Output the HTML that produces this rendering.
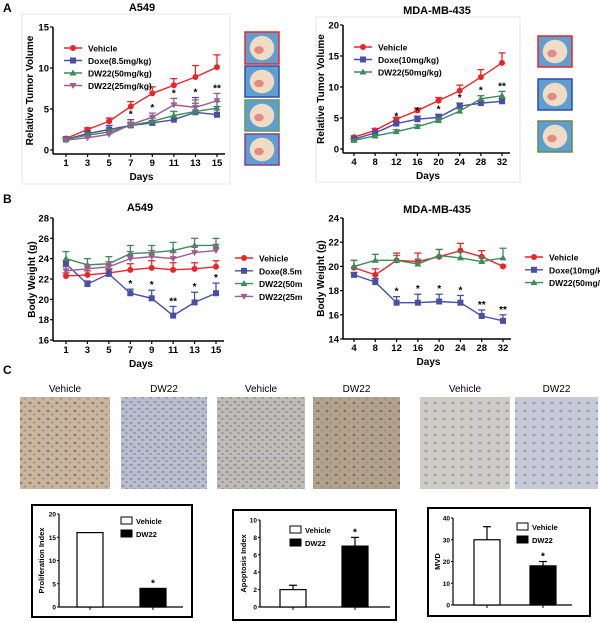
<!DOCTYPE html>
<html><head><meta charset="utf-8">
<style>
html,body{margin:0;padding:0;background:#fff;}
svg{display:block;font-family:"Liberation Sans",Arial,sans-serif;}
</style></head>
<body>
<svg id="fig" width="600" height="623" viewBox="0 0 600 623" xmlns="http://www.w3.org/2000/svg">
<defs>
  <pattern id="nucA" width="9" height="8" patternUnits="userSpaceOnUse"><ellipse cx="3" cy="3" rx="1.6" ry="1.2" fill="#6a4a30"/><ellipse cx="7" cy="6.5" rx="1.4" ry="1.1" fill="#6f7fb0"/></pattern>
  <pattern id="nucB" width="8" height="7" patternUnits="userSpaceOnUse"><ellipse cx="3" cy="3" rx="1.6" ry="1.2" fill="#6576b0"/><ellipse cx="6.5" cy="6" rx="1.2" ry="1" fill="#7a6050"/></pattern>
  <pattern id="nucC" width="9" height="8" patternUnits="userSpaceOnUse"><ellipse cx="3" cy="3" rx="1.7" ry="1.3" fill="#6f82c0"/></pattern>
</defs>
<g id="root"></g>
</svg>
<script>
// ---------- Data ----------
const daysA = [1,3,5,7,9,11,13,15];
const daysM = [4,8,12,16,20,24,28,32];
// Panel A left (A549 tumor volume)
const aLVehicle = [1.4,2.5,3.5,5.3,6.9,7.9,8.9,10.1];
const aLVehicleErr = [0.2,0.2,0.4,0.6,0.8,0.8,1.4,1.5];
const aLDoxe = [1.3,2.0,2.5,3.0,3.3,3.7,4.6,4.3];
const aLDoxeErr = [0.2,0.3,0.5,0.7,0.3,1.0,1.8,1.0];
const aLDw50 = [1.3,1.8,2.2,3.0,3.5,4.2,4.7,5.1];
const aLDw50Err = [0.1,0.2,0.3,0.2,0.4,0.5,1.0,0.8];
const aLDw25 = [1.2,1.5,1.9,3.1,4.0,5.5,5.2,6.0];
const aLDw25Err = [0.1,0.2,0.3,0.3,0.5,0.8,0.9,0.9];
const aLStars = ["","","","*","*","*","*","**"];
// Panel A right (MDA-MB-435 tumor volume)
const aRVehicle = [1.9,3.0,4.8,6.2,7.8,9.4,11.6,13.9];
const aRVehicleErr = [0.2,0.3,0.3,0.4,0.5,0.9,1.2,1.6];
const aRDoxe = [1.6,2.6,4.1,4.8,5.1,6.9,7.4,7.7];
const aRDoxeErr = [0.1,0.2,0.3,0.5,0.5,0.5,0.3,0.4];
const aRDw50 = [1.4,2.1,2.8,3.6,4.6,6.1,8.1,8.6];
const aRDw50Err = [0.1,0.2,0.3,0.3,0.4,0.4,0.5,0.7];
const aRStars = ["","","*","*","*","*","*","**"];
// Panel B left (A549 body weight)
const bLVehicle = [22.3,22.4,22.6,22.9,23.1,22.9,23.0,23.2];
const bLVehicleErr = [0.3,0.4,0.4,0.6,0.7,0.7,0.6,0.6];
const bLDoxe = [23.5,21.5,22.5,20.6,20.1,18.4,19.7,20.6];
const bLDoxeErr = [0.3,0.3,0.4,0.4,0.8,0.9,1.0,1.0];
const bLDw50 = [24.0,23.4,23.5,24.5,24.6,24.8,25.3,25.3];
const bLDw50Err = [0.7,0.6,0.7,0.8,0.7,0.8,0.7,0.7];
const bLDw25 = [22.8,23.0,23.2,24.0,24.2,24.0,24.6,24.8];
const bLDw25Err = [0.4,0.4,0.5,0.7,0.6,0.6,0.6,0.6];
const bLStars = ["","","","*","*","**","*","*"];
// Panel B right (MDA-MB-435 body weight)
const bRVehicle = [19.9,19.3,20.5,20.4,20.8,21.3,20.8,20.0];
const bRVehicleErr = [0.6,0.5,0.6,0.7,0.6,0.6,0.5,0.1];
const bRDoxe = [19.3,18.7,17.0,17.0,17.1,17.0,15.9,15.5];
const bRDoxeErr = [0.2,0.3,0.5,0.7,0.6,0.6,0.5,0.5];
const bRDw50 = [20.0,20.5,20.5,20.2,20.9,20.7,20.4,20.7];
const bRDw50Err = [0.5,0.5,0.4,0.4,0.5,0.5,0.4,0.8];
const bRStars = ["","","*","*","*","*","**","**"];
// Panel C bars
const barGroups = ["Vehicle","DW22"];
const prolifValues = [16,4];
const prolifErr = [0,0];
const apopValues = [2,7];
const apopErr = [0.5,1];
const mvdValues = [30,18];
const mvdErr = [6,2];

// ---------- helpers ----------
const NS="http://www.w3.org/2000/svg";
const root=document.getElementById('root');
function el(tag,attrs,parent,text){const e=document.createElementNS(NS,tag);for(const k in attrs)e.setAttribute(k,attrs[k]);if(text!==undefined)e.textContent=text;(parent||root).appendChild(e);return e;}
const RED="#e8262a",BLUE="#4a4fa3",GREEN="#3f8a5a",PURPLE="#9a5e90";

function marker(g,type,x,y,c){
  let m;
  if(type==='circle') m=el('circle',{cx:x,cy:y,r:3,fill:c},g);
  else if(type==='square') m=el('rect',{x:x-3,y:y-3,width:6,height:6,fill:c},g);
  else if(type==='tri') m=el('polygon',{points:`${x},${y-3.5} ${x-3.5},${y+2.5} ${x+3.5},${y+2.5}`,fill:c},g);
  else m=el('polygon',{points:`${x},${y+3.5} ${x-3.5},${y-2.5} ${x+3.5},${y-2.5}`,fill:c},g);
  return m;
}

function lineChart(cfg){
  const g=el('g',{});
  
  
  if(cfg.bg){el('rect',{x:cfg.bg[0],y:cfg.bg[1],width:cfg.bg[2],height:cfg.bg[3],fill:'#fff'},g);}
  const xs=v=>cfg.x0+(v-cfg.days[0])/(cfg.days[cfg.days.length-1]-cfg.days[0])*(cfg.x1-cfg.x0);
  const ys=v=>cfg.yb-(v-cfg.ymin)/(cfg.ymax-cfg.ymin)*(cfg.yb-cfg.yt);
  if(cfg.frame){const f=el('rect',{x:cfg.frame[0],y:cfg.frame[1],width:cfg.frame[2],height:cfg.frame[3],fill:'none',stroke:'#e6e6e6','stroke-width':1},g);
    }
  const t=el('text',{x:cfg.tx,y:cfg.ty,'font-size':11,'font-weight':'bold','text-anchor':'middle'},g,cfg.title);
  
  const ax=cfg.axX;
  el('line',{x1:ax,y1:ys(cfg.ymax),x2:ax,y2:cfg.axY,stroke:'#000','stroke-width':1.5},g);
  el('line',{x1:ax,y1:cfg.axY,x2:cfg.x1+8,y2:cfg.axY,stroke:'#000','stroke-width':1.5},g);
  cfg.yticks.forEach(v=>{
    el('line',{x1:ax-3,y1:ys(v),x2:ax,y2:ys(v),stroke:'#000','stroke-width':1.2},g);
    const l=el('text',{x:ax-4,y:ys(v)+3.5,'font-size':9.5,'font-weight':'bold','text-anchor':'end'},g,String(v));
    
  });
  cfg.days.forEach(d=>{
    el('line',{x1:xs(d),y1:cfg.axY,x2:xs(d),y2:cfg.axY+3,stroke:'#000','stroke-width':1.2},g);
    const l=el('text',{x:xs(d),y:cfg.axY+12,'font-size':9.5,'font-weight':'bold','text-anchor':'middle'},g,String(d));
    
  });
  const xt=el('text',{x:(cfg.x0+cfg.x1)/2,y:cfg.axY+26,'font-size':10,'font-weight':'bold','text-anchor':'middle'},g,'Days');
  
  const cy=(ys(cfg.ymax)+cfg.axY)/2;
  const yt=el('text',{x:cfg.ylx,y:cy,'font-size':10,'font-weight':'bold','text-anchor':'middle',transform:`rotate(-90 ${cfg.ylx} ${cy})`},g,cfg.ylabel);
  
  cfg.series.forEach(s=>{
    const sg=el('g',{},g);
    
    s.vals.forEach((v,i)=>{
      const x=xs(cfg.days[i]),y=ys(v),y2=ys(v+s.err[i]);
      el('line',{x1:x,y1:y,x2:x,y2:y2,stroke:s.c,'stroke-width':1.3},sg);
      el('line',{x1:x-3.5,y1:y2,x2:x+3.5,y2:y2,stroke:s.c,'stroke-width':1.3},sg);
    });
    el('polyline',{points:s.vals.map((v,i)=>xs(cfg.days[i])+','+ys(v)).join(' '),fill:'none',stroke:s.c,'stroke-width':1.4},sg);
    s.vals.forEach((v,i)=>{const m=marker(sg,s.m,xs(cfg.days[i]),ys(v),s.c);
      });
  });
  if(cfg.stars){
    const ref=cfg.series.find(s=>s.key===cfg.starRef);
    cfg.stars.forEach((st,i)=>{ if(!st) return;
      const tops=cfg.series.filter(s=>s.key!=='vehicle').map(s=>s.vals[i]+s.err[i]);
      const top=Math.max(...(cfg.starAbove?tops:[ref.vals[i]+ref.err[i]]));
      const s=el('text',{x:xs(cfg.days[i]),y:ys(top)-2,'font-size':10,'font-weight':'bold','text-anchor':'middle'},g,st);
      
    });
  }
  cfg.series.forEach((s,i)=>{
    const ly=cfg.ly+i*cfg.lgap;
    const lg=el('g',{},g);
    
    el('line',{x1:cfg.lx,y1:ly,x2:cfg.lx+18,y2:ly,stroke:s.c,'stroke-width':1.4},lg);
    marker(lg,s.m,cfg.lx+9,ly,s.c);
    el('text',{x:cfg.lx+24,y:ly+3.5,'font-size':8.5,'font-weight':'bold'},lg,s.label);
  });
}

[['A',3,12],['B',3,203],['C',3,374]].forEach(p=>{const t=el('text',{x:p[1],y:p[2],'font-size':12,'font-weight':'bold'},root,p[0]);
  });

lineChart({name:'tumor-volume-a549',title:'A549',tx:142,ty:11,frame:[22,14,208,170],
  days:daysA,x0:66,x1:217,ymin:0,ymax:15,yt:27,yb:150,axX:53,axY:154,yticks:[0,5,10,15],ylx:33,ylabel:'Relative Tumor Volume',
  lx:64,ly:48,lgap:12.5,stars:aLStars,starRef:'dw25',starAbove:true,
  series:[{key:'vehicle',label:'Vehicle',vals:aLVehicle,err:aLVehicleErr,c:RED,m:'circle'},
  {key:'doxe',label:'Doxe(8.5mg/kg)',vals:aLDoxe,err:aLDoxeErr,c:BLUE,m:'square'},
  {key:'dw22-50',label:'DW22(50mg/kg)',vals:aLDw50,err:aLDw50Err,c:GREEN,m:'tri'},
  {key:'dw22-25',label:'DW22(25mg/kg)',vals:aLDw25,err:aLDw25Err,c:PURPLE,m:'tridown'}]});

lineChart({name:'tumor-volume-mda',title:'MDA-MB-435',tx:437,ty:14,frame:[316,17,204,165],
  days:daysM,x0:354,x1:502,ymin:0,ymax:20,yt:25,yb:149,axX:343,axY:153,yticks:[0,5,10,15,20],ylx:324,ylabel:'Relative Tumor Volume',
  lx:354,ly:47,lgap:12.5,stars:aRStars,starRef:'dw22-50',starAbove:true,
  series:[{key:'vehicle',label:'Vehicle',vals:aRVehicle,err:aRVehicleErr,c:RED,m:'circle'},
  {key:'doxe',label:'Doxe(10mg/kg)',vals:aRDoxe,err:aRDoxeErr,c:BLUE,m:'square'},
  {key:'dw22-50',label:'DW22(50mg/kg)',vals:aRDw50,err:aRDw50Err,c:GREEN,m:'tri'}]});

lineChart({name:'body-weight-a549',title:'A549',tx:140,ty:211,frame:[28,369,272,0],
  days:daysA,x0:66,x1:216,ymin:16,ymax:28,yt:218,yb:340,axX:53,axY:341,yticks:[16,18,20,22,24,26,28],ylx:35,ylabel:'Body Weight (g)',
  lx:235,ly:258,lgap:12.8,stars:bLStars,starRef:'doxe',starAbove:false,
  series:[{key:'vehicle',label:'Vehicle',vals:bLVehicle,err:bLVehicleErr,c:RED,m:'circle'},
  {key:'doxe',label:'Doxe(8.5mg/kg)',vals:bLDoxe,err:bLDoxeErr,c:BLUE,m:'square'},
  {key:'dw22-50',label:'DW22(50mg/kg)',vals:bLDw50,err:bLDw50Err,c:GREEN,m:'tri'},
  {key:'dw22-25',label:'DW22(25mg/kg)',vals:bLDw25,err:bLDw25Err,c:PURPLE,m:'tridown'}]});

lineChart({name:'body-weight-mda',title:'MDA-MB-435',tx:437,ty:213,bg:[302,200,298,168],
  days:daysM,x0:354,x1:503,ymin:14,ymax:24,yt:218,yb:339,axX:343,axY:339,yticks:[14,16,18,20,22,24],ylx:324,ylabel:'Body Weight (g)',
  lx:525,ly:257,lgap:12.8,stars:bRStars,starRef:'doxe',starAbove:false,
  series:[{key:'vehicle',label:'Vehicle',vals:bRVehicle,err:bRVehicleErr,c:RED,m:'circle'},
  {key:'doxe',label:'Doxe(10mg/kg)',vals:bRDoxe,err:bRDoxeErr,c:BLUE,m:'square'},
  {key:'dw22-50',label:'DW22(50mg/kg)',vals:bRDw50,err:bRDw50Err,c:GREEN,m:'tri'}]});

function photo(x,y,w,h,border,name){
  const g=el('g',{});
  el('rect',{x:x,y:y,width:w,height:h,fill:'#5f9fd0',stroke:border,'stroke-width':1.5},g);
  el('ellipse',{cx:x+w/2,cy:y+h/2,rx:w*0.36,ry:h*0.38,fill:'#f0dcc4'},g);
  el('ellipse',{cx:x+w/2-3,cy:y+h/2+2,rx:w*0.14,ry:h*0.12,fill:'#d9545a',opacity:0.6},g);
}
photo(245,32,34,32,RED,'tumor-photo-vehicle');photo(245,66,34,31,'#3348b0','tumor-photo-doxe');
photo(245,100,34,31,'#6a9a4a','tumor-photo-dw22-50');photo(245,134,34,31,'#8a3a9a','tumor-photo-dw22-25');
photo(538,36,34,31,RED,'tumor-photo-mda-vehicle');photo(538,79,34,31,'#3348b0','tumor-photo-mda-doxe');
photo(538,121,34,31,'#6a8a4a','tumor-photo-mda-dw22');

const micro=[[20,90,'Vehicle','#c9b69c','nucA'],[121,86,'DW22','#b9bfcc','nucB'],[217,88,'Vehicle','#bfbdb6','nucB'],[313,87,'DW22','#b3a38c','nucA'],[420,90,'Vehicle','#cfccc4','nucC'],[515,83,'DW22','#c8cad6','nucC']];
micro.forEach((m,i)=>{
  const g=el('g',{});
  el('rect',{x:m[0],y:397,width:m[1],height:92,fill:m[3]},g);
  el('rect',{x:m[0],y:397,width:m[1],height:92,fill:'url(#'+m[4]+')',opacity:0.55},g);
  const t=el('text',{x:m[0]+m[1]/2,y:392,'font-size':10,'text-anchor':'middle'},root,m[2]);
  
});

function barChart(cfg){
  const g=el('g',{});
  el('rect',{x:cfg.box[0],y:cfg.box[1],width:cfg.box[2],height:cfg.box[3],fill:'#fff',stroke:'#000','stroke-width':2},g);
  const ys=v=>cfg.yb-v/cfg.ymax*(cfg.yb-cfg.yt);
  el('line',{x1:cfg.axX,y1:cfg.yt,x2:cfg.axX,y2:cfg.yb,stroke:'#000','stroke-width':1.2},g);
  el('line',{x1:cfg.axX,y1:cfg.yb,x2:cfg.xEnd,y2:cfg.yb,stroke:'#000','stroke-width':1.2},g);
  cfg.ticks.forEach(v=>{el('line',{x1:cfg.axX-2,y1:ys(v),x2:cfg.axX,y2:ys(v),stroke:'#000'},g);
    const l=el('text',{x:cfg.axX-3,y:ys(v)+2.5,'font-size':6.5,'font-weight':'bold','text-anchor':'end'},g,String(v));
    });
  const cy=(cfg.yt+cfg.yb)/2;
  const yt=el('text',{x:cfg.ylx,y:cy,'font-size':7.5,'font-weight':'bold','text-anchor':'middle',transform:`rotate(-90 ${cfg.ylx} ${cy})`},g,cfg.ylabel);
  
  barGroups.forEach((grp,i)=>{
    const v=cfg.vals[i],e=cfg.err[i],x=cfg.bx[i];
    const b=el('rect',{x:x,y:ys(v),width:cfg.bw,height:cfg.yb-ys(v),fill:i?'#000':'#fff',stroke:'#000','stroke-width':1.2},g);
    
    if(e>0){el('line',{x1:x+cfg.bw/2,y1:ys(v),x2:x+cfg.bw/2,y2:ys(v+e),stroke:'#000','stroke-width':1.2},g);
      el('line',{x1:x+cfg.bw/2-4,y1:ys(v+e),x2:x+cfg.bw/2+4,y2:ys(v+e),stroke:'#000','stroke-width':1.2},g);}
    el('line',{x1:x+cfg.bw/2,y1:cfg.yb,x2:x+cfg.bw/2,y2:cfg.yb+3,stroke:'#000'},g);
    if(i===1){const s=el('text',{x:x+cfg.bw/2,y:ys(v+e)-2,'font-size':10,'font-weight':'bold','text-anchor':'middle'},g,'*');
      }
    const lg=el('g',{},g);
    el('rect',{x:cfg.lx,y:cfg.ly+i*13-4,width:11,height:7,fill:i?'#000':'#fff',stroke:'#000','stroke-width':1},lg);
    el('text',{x:cfg.lx+15,y:cfg.ly+i*13+3,'font-size':7.5,'font-weight':'bold'},lg,grp);
  });
}
barChart({name:'proliferation-chart',box:[32,505,160,112],axX:59,yt:514,yb:607,xEnd:183,ymax:20,ticks:[0,5,10,15,20],ylx:44,ylabel:'Proliferation Index',
  vals:prolifValues,err:prolifErr,bx:[77,140],bw:26,lx:121,ly:521});
barChart({name:'apoptosis-chart',box:[233,510,163,110],axX:260,yt:520,yb:607,xEnd:390,ymax:10,ticks:[0,2,4,6,8,10],ylx:246,ylabel:'Apoptosis Index',
  vals:apopValues,err:apopErr,bx:[280,342],bw:26,lx:290,ly:530});
barChart({name:'mvd-chart',box:[428,508,162,108],axX:453,yt:518,yb:605,xEnd:572,ymax:40,ticks:[0,10,20,30,40],ylx:440,ylabel:'MVD',
  vals:mvdValues,err:mvdErr,bx:[474,530],bw:26,lx:517,ly:527});
</script>
</body></html>
